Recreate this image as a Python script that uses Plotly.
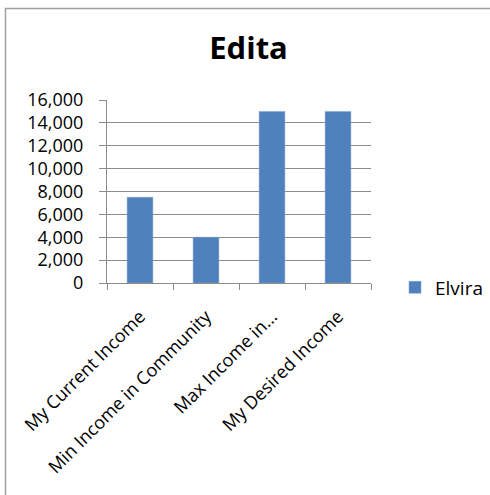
import plotly.graph_objects as go

categories = ["My Current Income", "Min Income in Community", "Max Income in...", "My Desired Income"]
values = [7500, 4000, 15000, 15000]
series_name = "Elvira"
title_text = "Edita"
y_ticks = [0, 2000, 4000, 6000, 8000, 10000, 12000, 14000, 16000]

W, H = 490, 495
L, R, T, B = 107, 119, 100, 212
pw, ph = W - L - R, H - T - B

grid = "#8c8c8c"
font = "Open Sans"

fig = go.Figure(go.Bar(
    x=categories, y=values, name=series_name,
    marker=dict(color="#4f81bd", line=dict(color="#7fa3d0", width=0.5)),
    showlegend=True,
))

fig.update_layout(
    width=W, height=H,
    margin=dict(l=L, r=R, t=T, b=B, autoexpand=False),
    paper_bgcolor="white", plot_bgcolor="white",
    font=dict(family=font, size=18, color="black"),
    title=dict(text="<b>" + title_text + "</b>", x=248.5 / W, xanchor="center",
               y=1 - 48 / H, yanchor="middle", yref="container",
               font=dict(family=font, size=31, color="black")),
    bargap=0.61,
    legend=dict(x=(395 - L) / pw, xanchor="left", y=(283 - 287.5) / ph, yanchor="middle",
                font=dict(family=font, size=19, color="black"),
                bgcolor="rgba(0,0,0,0)", itemwidth=30),
    xaxis=dict(type="category", tickson="boundaries", ticks="outside", ticklen=6,
               tickcolor=grid, showline=True, linecolor=grid, linewidth=1,
               showgrid=False, tickangle=-45, tickfont=dict(size=18),
               ticklabelstandoff=15),
    yaxis=dict(range=[0, 16000], tickvals=y_ticks, tickformat=",", ticks="outside",
               ticklen=7, tickcolor=grid, showline=True, linecolor=grid, linewidth=1,
               showgrid=True, gridcolor=grid, gridwidth=1, zeroline=False,
               ticklabelstandoff=12, tickfont=dict(size=18)),
    shapes=[dict(type="rect", xref="paper", yref="paper",
                 x0=(5.5 - L) / pw, x1=(W + 10 - L) / pw,
                 y0=(283 - (H + 10)) / ph, y1=(283 - 8.5) / ph,
                 line=dict(color="#a0a0a0", width=1.5), fillcolor="rgba(0,0,0,0)",
                 layer="below")],
)

fig.write_html("out.html")
